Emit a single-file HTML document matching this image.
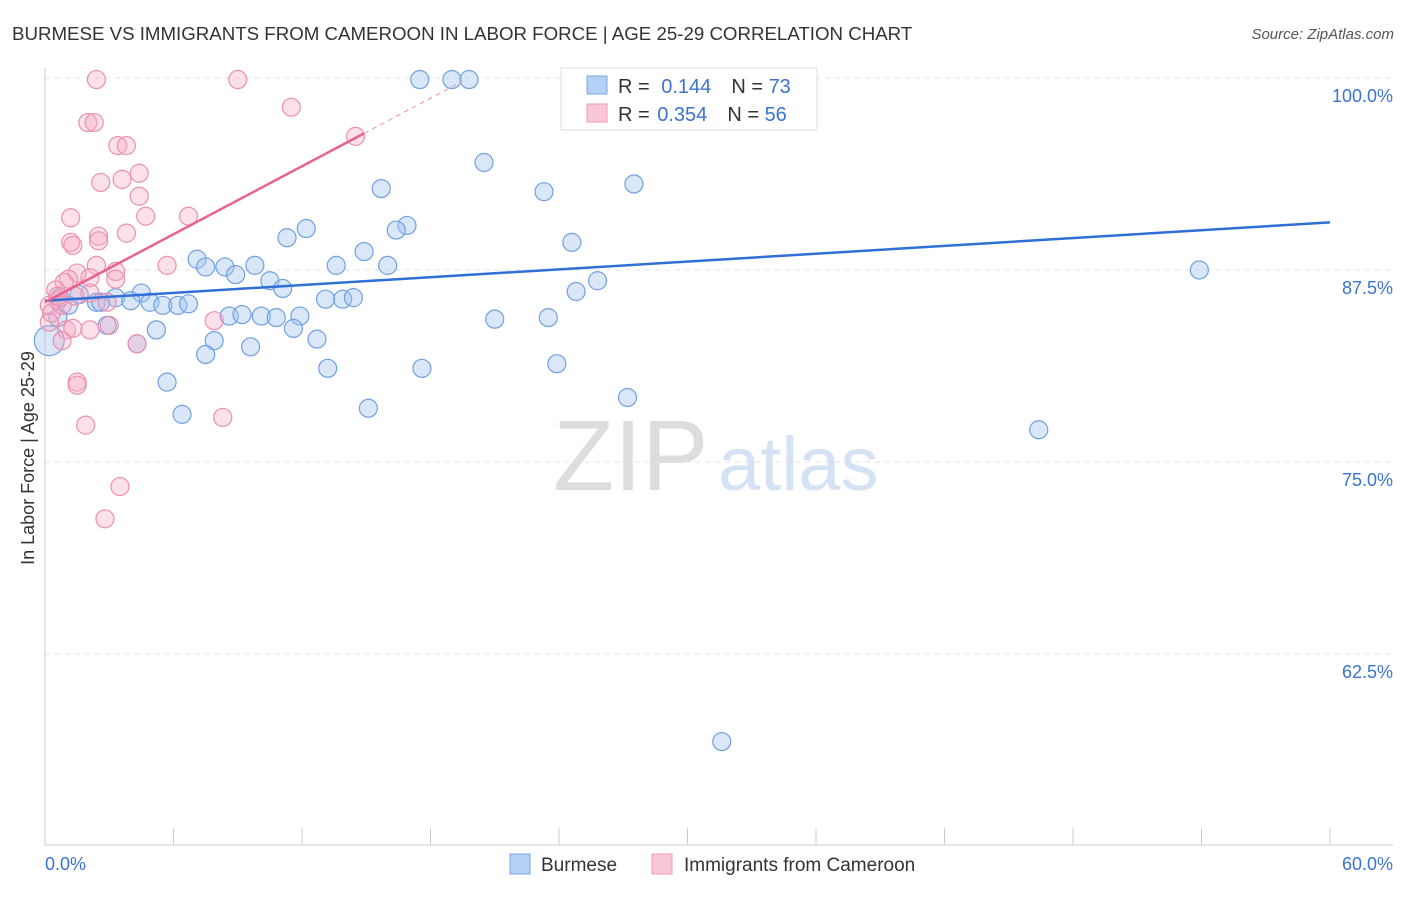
<!DOCTYPE html>
<html><head><meta charset="utf-8"><style>
body{margin:0;background:#fff;font-family:"Liberation Sans",sans-serif;}
svg text{font-family:"Liberation Sans",sans-serif;}
</style></head><body>
<svg id="chart" width="1406" height="892">
<text x="12" y="40" font-size="18.7" fill="#333">BURMESE VS IMMIGRANTS FROM CAMEROON IN LABOR FORCE | AGE 25-29 CORRELATION CHART</text>
<text x="1394" y="39" font-size="15" fill="#555" font-style="italic" text-anchor="end">Source: ZipAtlas.com</text>
<g>
<text x="553" y="490" font-size="100" fill="#ddd" font-family="Liberation Serif">ZIP</text>
<text x="718" y="490" font-size="76" fill="#d4e2f4">atlas</text>
</g>
<g id="grid"></g>
<line x1="45" y1="68" x2="45" y2="845" stroke="#ccc"/>
<line x1="45" y1="845" x2="1393" y2="845" stroke="#ccc"/>
<g id="xticks"></g>
<text x="45" y="870" font-size="18" fill="#3b73d0">0.0%</text>
<text x="1393" y="870" font-size="18" fill="#3b73d0" text-anchor="end">60.0%</text>
<text transform="translate(34,458) rotate(-90)" font-size="18" fill="#333" text-anchor="middle">In Labor Force | Age 25-29</text>
<g id="pts"></g>
<g id="trend"></g>
<g>
<rect x="561" y="68" width="256" height="62" fill="#fff" stroke="#ddd"/>
<rect x="587" y="76" width="20" height="18" fill="#b4d0f4" stroke="#7aa8e6"/>
<rect x="587" y="104" width="20" height="18" fill="#f9c8d8" stroke="#ee9ab8"/>
<text x="618" y="93" font-size="20" fill="#333">R = <tspan fill="#3b73d0" dx="6">0.144</tspan><tspan dx="20" fill="#333">N = </tspan><tspan fill="#3b73d0">73</tspan></text>
<text x="618" y="121" font-size="20" fill="#333">R = <tspan fill="#3b73d0" dx="2">0.354</tspan><tspan dx="20" fill="#333">N = </tspan><tspan fill="#3b73d0">56</tspan></text>
</g>
<g>
<rect x="510" y="854" width="20" height="20" fill="#b4d0f4" stroke="#7aa8e6"/>
<text x="541" y="871" font-size="19" fill="#333">Burmese</text>
<rect x="652" y="854" width="20" height="20" fill="#f9c8d8" stroke="#ee9ab8"/>
<text x="684" y="871" font-size="19" fill="#333">Immigrants from Cameroon</text>
</g>
</svg>
<script>
const yTicks=[100,87.5,75,62.5];
const yTickLabels=["100.0%","87.5%","75.0%","62.5%"];
const xTicks=[0,6,12,18,24,30,36,42,48,54,60];
const blueX=[17.5,19.0,19.8,26.1,29.5,20.5,23.3,27.5,15.7,16.9,16.4,12.2,11.3,24.6,14.9,7.1,7.5,8.4,9.8,8.9,13.6,16.0,10.5,11.1,25.8,24.8,53.9,13.1,13.9,14.4,4.5,3.3,4.0,4.9,5.5,6.2,6.7,2.4,1.6,1.1,0.7,2.6,8.6,9.2,10.1,10.8,11.9,11.6,5.2,2.9,7.9,9.6,12.7,4.3,7.5,21.0,23.5,13.2,17.6,23.9,5.7,27.2,6.4,15.1,46.4,31.6,0.2,0.6];
const blueY=[99.9,99.9,99.9,99.9,99.9,94.5,92.6,93.1,92.8,90.4,90.1,90.2,89.6,89.3,88.7,88.2,87.7,87.7,87.8,87.2,87.8,87.8,86.8,86.3,86.8,86.1,87.5,85.6,85.6,85.7,86.0,85.7,85.5,85.4,85.2,85.2,85.3,85.4,85.9,85.2,85.7,85.4,84.5,84.6,84.5,84.4,84.5,83.7,83.6,83.9,82.9,82.5,83.0,82.7,82.0,84.3,84.4,81.1,81.1,81.4,80.2,79.2,78.1,78.5,77.1,56.8,82.9,84.4];
const pinkX=[2.4,9.0,11.5,14.5,2.0,2.3,3.4,3.8,4.4,2.6,3.6,4.4,1.2,4.7,6.7,3.8,2.5,2.5,1.2,1.3,2.4,5.7,3.3,3.3,1.5,2.1,1.1,0.9,0.5,0.6,0.2,0.3,0.2,1.4,2.1,2.9,1.0,1.3,2.1,3.0,0.8,4.3,7.9,1.5,1.5,1.9,8.3,3.5,2.8,0.6,0.8];
const pinkY=[99.9,99.9,98.1,96.2,97.1,97.1,95.6,95.6,93.8,93.2,93.4,92.3,90.9,91.0,91.0,89.9,89.7,89.4,89.3,89.1,87.8,87.8,87.4,86.9,87.3,87.0,86.9,86.7,86.2,85.5,85.2,84.7,84.1,85.8,86.0,85.4,83.6,83.7,83.6,83.9,82.9,82.7,84.2,80.2,80.0,77.4,77.9,73.4,71.3,85.8,85.2];
const blueTrend=[85.5,90.6];
const pinkTrend=[85.4,0.738];
const X=v=>45+v/60*1285, Y=v=>78+(100-v)/12.5*192;
const NS="http://www.w3.org/2000/svg";
function mk(t,a,p){const e=document.createElementNS(NS,t);for(const k in a)e.setAttribute(k,a[k]);p.appendChild(e);return e;}
const grid=document.getElementById('grid');
yTicks.forEach((t,i)=>{
 const l=mk('line',{x1:45,x2:1393,y1:Y(t),y2:Y(t),stroke:'#e2e2e2','stroke-dasharray':'5,5'},grid);
 
 
 const tx=mk('text',{x:1393,y:Y(t)+24,'font-size':18,fill:'#3b73d0','text-anchor':'end'},grid);
 tx.textContent=yTickLabels[i];
 
 
});
const xt=document.getElementById('xticks');
xTicks.forEach(t=>{
 const l=mk('line',{x1:X(t),x2:X(t),y1:828,y2:845,stroke:'#ccc'},xt);
 
 
});
const pts=document.getElementById('pts');
blueX.forEach((v,i)=>{
 const r=(i===blueX.length-2)?15:9;
 const c=mk('circle',{cx:X(v),cy:Y(blueY[i]),r:r,fill:'rgba(160,195,240,0.4)',stroke:'#6fa0e2','stroke-width':1.2},pts);
 
 
});
pinkX.forEach((v,i)=>{
 const c=mk('circle',{cx:X(v),cy:Y(pinkY[i]),r:9,fill:'rgba(245,170,196,0.35)',stroke:'#ec8fb0','stroke-width':1.2},pts);
 
 
});
const tr=document.getElementById('trend');
const b=mk('line',{x1:X(0),y1:Y(blueTrend[0]),x2:X(60),y2:Y(blueTrend[1]),stroke:'#2f6fd6','stroke-width':2.5},tr);


const pe=14.9, pd=19.5;
const p=mk('line',{x1:X(0),y1:Y(pinkTrend[0]),x2:X(pe),y2:Y(pinkTrend[0]+pinkTrend[1]*pe),stroke:'#e8628f','stroke-width':2.5},tr);


const pd2=mk('line',{x1:X(pe),y1:Y(pinkTrend[0]+pinkTrend[1]*pe),x2:X(pd),y2:Y(pinkTrend[0]+pinkTrend[1]*pd),stroke:'#eea0bb','stroke-width':1.2,'stroke-dasharray':'5,4'},tr);


</script>
</body></html>
